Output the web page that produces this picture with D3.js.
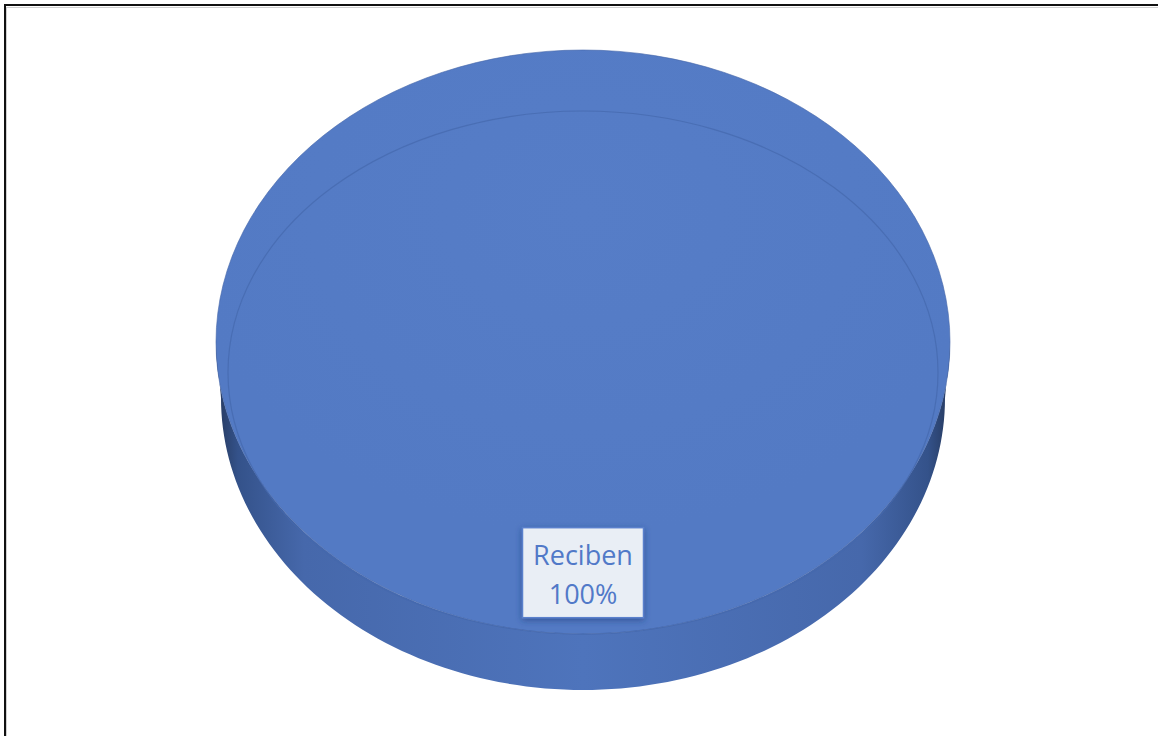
<!DOCTYPE html>
<html>
<head>
<meta charset="utf-8">
<script src="https://cdn.jsdelivr.net/npm/d3@7"></script>
<style>
  html, body { margin: 0; padding: 0; background: #fff; }
  svg { display: block; }
</style>
</head>
<body>
<svg id="chart" width="1158" height="736"></svg>
<script>
const categories = ["Reciben"];
const values = [100];
const percentLabels = ["100%"];

const W = 1158, H = 736;
const svg = d3.select("#chart");

// chart frame
svg.append("rect").attr("x", 6.5).attr("y", 7.5).attr("width", W + 20).attr("height", H + 20)
  .attr("fill", "none").attr("stroke", "#d0d0d0").attr("stroke-width", 1);
svg.append("rect").attr("x", 5).attr("y", 5).attr("width", W + 20).attr("height", H + 20)
  .attr("fill", "none").attr("stroke", "#111").attr("stroke-width", 2);

const cx = 583, cy = 342, rx = 367, ry = 292, depth = 56, rxBottom = 362;

const defs = svg.append("defs");
const sideGrad = defs.append("linearGradient").attr("id", "sideGrad")
  .attr("gradientUnits", "userSpaceOnUse")
  .attr("x1", cx - rx).attr("x2", cx + rx).attr("y1", 0).attr("y2", 0);
[[0, "#26395e"], [0.03, "#34528a"], [0.12, "#4668ab"], [0.5, "#4e74bc"], [0.88, "#4668ab"], [0.97, "#34528a"], [1, "#26395e"]]
  .forEach(([o, c]) => sideGrad.append("stop").attr("offset", o).attr("stop-color", c));

const topGrad = defs.append("radialGradient").attr("id", "topGrad")
  .attr("cx", 0.5).attr("cy", 0.28).attr("r", 0.55);
topGrad.append("stop").attr("offset", 0).attr("stop-color", "#567dc7");
topGrad.append("stop").attr("offset", 1).attr("stop-color", "#537ac4");

const shadow = defs.append("filter").attr("id", "boxShadow")
  .attr("x", -0.2).attr("y", -0.2).attr("width", 1.4).attr("height", 1.4);
shadow.append("feDropShadow").attr("dx", 0).attr("dy", 2).attr("stdDeviation", 3)
  .attr("flood-color", "#1f3c7a").attr("flood-opacity", 0.6);

const pie = d3.pie().sort(null).value(d => d)(values);
const arcUnit = d3.arc().innerRadius(0).outerRadius(1);

// side wall (lower half of the cylinder)
const sx = t => cx + rx * Math.cos(t), sy = t => cy + ry * Math.sin(t);
const bx = t => cx + rxBottom * Math.cos(t), by = t => cy + depth + ry * Math.sin(t);
let p = `M${sx(0)},${sy(0)}`;
const N = 120;
p += ` L${bx(0)},${by(0)}`;
for (let i = 1; i <= N; i++) { const t = Math.PI * i / N; p += ` L${bx(t)},${by(t)}`; }
p += ` L${sx(Math.PI)},${sy(Math.PI)}`;
for (let i = N - 1; i >= 0; i--) { const t = Math.PI * i / N; p += ` L${sx(t)},${sy(t)}`; }
p += " Z";
svg.append("path").attr("d", p).attr("fill", "url(#sideGrad)");

// top face, one slice per category
const g = svg.append("g").attr("transform", `translate(${cx},${cy}) scale(${rx},${ry})`);
g.selectAll("path.slice").data(pie).join("path").attr("class", "slice")
  .attr("d", arcUnit).attr("fill", "url(#topGrad)")
  .attr("stroke", "#4466a8").attr("stroke-width", 1).attr("stroke-opacity", 0.6)
  .attr("vector-effect", "non-scaling-stroke");

// inner bevel line
svg.append("ellipse").attr("cx", cx).attr("cy", 372.5).attr("rx", 355).attr("ry", 261.5)
  .attr("fill", "none").attr("stroke", "#4568ad").attr("stroke-width", 1.2).attr("stroke-opacity", 0.7);

// data labels
const labelG = svg.selectAll("g.lbl").data(pie).join("g").attr("class", "lbl")
  .attr("transform", d => {
    const a = (d.startAngle + d.endAngle) / 2;
    const k = 0.79;
    return `translate(${cx + Math.sin(a) * rx * k},${cy - Math.cos(a) * ry * k})`;
  });
labelG.append("rect").attr("x", -60.5).attr("y", -45).attr("width", 121).attr("height", 90)
  .attr("fill", "#e9eef5").attr("stroke", "#5a80cc").attr("stroke-width", 1.5)
  .attr("filter", "url(#boxShadow)");
labelG.append("text").attr("text-anchor", "middle").attr("y", -8)
  .attr("font-family", "'Open Sans', 'Noto Sans', sans-serif").attr("font-size", 27)
  .attr("fill", "#5179c8").text((d, i) => categories[i]);
labelG.append("text").attr("text-anchor", "middle").attr("y", 31)
  .attr("font-family", "'Open Sans', 'Noto Sans', sans-serif").attr("font-size", 27)
  .attr("fill", "#5179c8").text((d, i) => percentLabels[i]);
</script>
</body>
</html>
